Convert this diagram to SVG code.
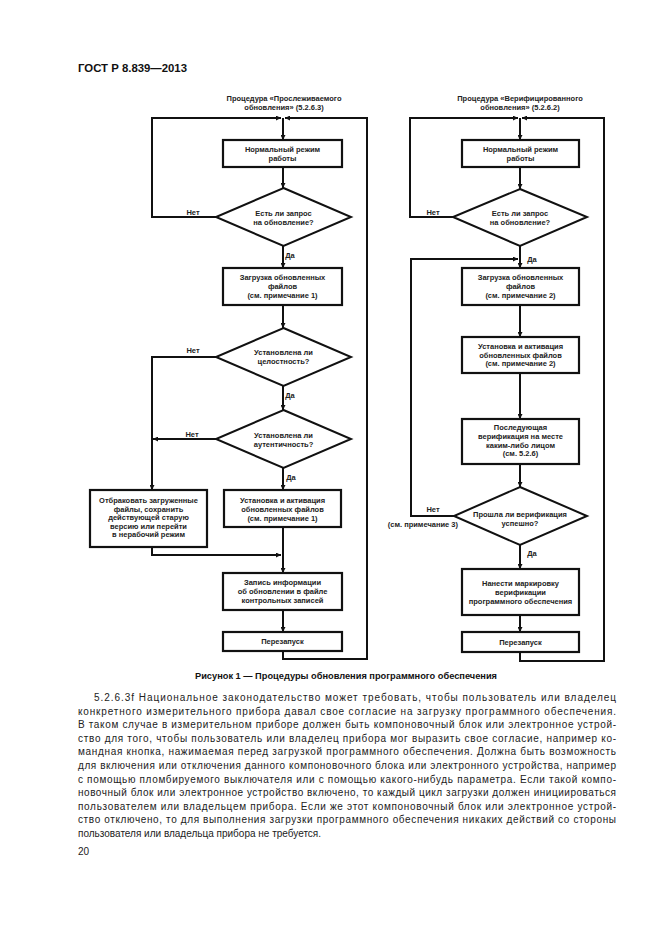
<svg xmlns="http://www.w3.org/2000/svg" width="661" height="935" viewBox="0 0 661 935">
<defs>
<marker id="ah" viewBox="0 0 8 8" refX="8" refY="4" markerWidth="5" markerHeight="5" markerUnits="userSpaceOnUse" orient="auto">
<path d="M0,0 L8,4 L0,8 z" fill="#111"/>
</marker>
<style>
.bx{fill:#fff;stroke:#111;stroke-width:2.2}
.dm{fill:#fff;stroke:#111;stroke-width:2}
.cn{fill:none;stroke:#111;stroke-width:2}
.t{font-family:"Liberation Sans",Arial,sans-serif;font-size:7.5px;font-weight:bold;fill:#222;text-anchor:middle}
.lb{font-family:"Liberation Sans",Arial,sans-serif;font-size:7.5px;font-weight:bold;fill:#222;text-anchor:middle}
.body{font-family:"Liberation Sans",Arial,sans-serif;font-size:10px;fill:#222}
</style>
</defs>
<rect width="661" height="935" fill="#fff"/>
<text x="78" y="72" font-family="Liberation Sans,Arial,sans-serif" font-size="11" font-weight="bold" fill="#111" textLength="109" lengthAdjust="spacingAndGlyphs">ГОСТ Р 8.839—2013</text>

<g id="connectors">
<path class="cn" d="M216,217 H152 V118 H281" marker-end="url(#ah)"/>
<path class="cn" d="M283,651 V659 H367 V118 H285" marker-end="url(#ah)"/>
<path class="cn" d="M283,118 V140" marker-end="url(#ah)"/>
<path class="cn" d="M283,167 V188" marker-end="url(#ah)"/>
<path class="cn" d="M283,246 V268" marker-end="url(#ah)"/>
<path class="cn" d="M283,305 V328" marker-end="url(#ah)"/>
<path class="cn" d="M216,357 H152 V490" marker-end="url(#ah)"/>
<path class="cn" d="M216,439 H153" marker-end="url(#ah)"/>
<path class="cn" d="M283,386 V410" marker-end="url(#ah)"/>
<path class="cn" d="M283,468 V490" marker-end="url(#ah)"/>
<path class="cn" d="M152,547 V555 H281" marker-end="url(#ah)"/>
<path class="cn" d="M283,527 V573" marker-end="url(#ah)"/>
<path class="cn" d="M283,610 V632" marker-end="url(#ah)"/>

<path class="cn" d="M453,217 H410 V118 H518" marker-end="url(#ah)"/>
<path class="cn" d="M520,652 V661 H604 V118 H522" marker-end="url(#ah)"/>
<path class="cn" d="M520,118 V140" marker-end="url(#ah)"/>
<path class="cn" d="M520,167 V189" marker-end="url(#ah)"/>
<path class="cn" d="M520,246 V268" marker-end="url(#ah)"/>
<path class="cn" d="M454,516 H411 V259 H518" marker-end="url(#ah)"/>
<path class="cn" d="M520,305 V337" marker-end="url(#ah)"/>
<path class="cn" d="M520,373 V419" marker-end="url(#ah)"/>
<path class="cn" d="M520,464 V487" marker-end="url(#ah)"/>
<path class="cn" d="M520,545 V569" marker-end="url(#ah)"/>
<path class="cn" d="M520,615 V632" marker-end="url(#ah)"/>

<text class="lb" x="193" y="215">Нет</text>
<text class="lb" x="193" y="353">Нет</text>
<text class="lb" x="192" y="437">Нет</text>
<text class="lb" x="290" y="258">Да</text>
<text class="lb" x="290" y="398">Да</text>
<text class="lb" x="291" y="480">Да</text>
<text class="lb" x="433" y="215">Нет</text>
<text class="lb" x="532" y="262">Да</text>
<text class="lb" x="433" y="512">Нет</text>
<text class="lb" x="458" y="527" style="text-anchor:end">(см. примечание 3)</text>
<text class="lb" x="532" y="556">Да</text>
</g>

<g id="title-left"><text class="t" x="284" y="101">Процедура «Прослеживаемого</text><text class="t" x="284" y="109.5">обновления» (5.2.6.3)</text></g>
<g id="title-right"><text class="t" x="520" y="101">Процедура «Верифицированного</text><text class="t" x="520" y="109.5">обновления» (5.2.6.2)</text></g>

<g id="L1"><rect class="bx" x="223" y="140" width="119" height="27"/><text class="t" x="282.5" y="152">Нормальный режим</text><text class="t" x="282.5" y="161">работы</text></g>
<g id="L2"><polygon class="dm" points="283.5,188 351,217 283.5,246 216,217"/><text class="t" x="283.5" y="216">Есть ли запрос</text><text class="t" x="283.5" y="224.5">на обновление?</text></g>
<g id="L3"><rect class="bx" x="223" y="268" width="119" height="37"/><text class="t" x="282.5" y="280">Загрузка обновленных</text><text class="t" x="282.5" y="289">файлов</text><text class="t" x="282.5" y="298">(см. примечание 1)</text></g>
<g id="L4"><polygon class="dm" points="283.5,328 351,357 283.5,386 216,357"/><text class="t" x="283.5" y="355">Установлена ли</text><text class="t" x="283.5" y="364">целостность?</text></g>
<g id="L5"><polygon class="dm" points="283.5,410 351,439 283.5,468 216,439"/><text class="t" x="283.5" y="438">Установлена ли</text><text class="t" x="283.5" y="447">аутентичность?</text></g>
<g id="L6"><rect class="bx" x="90" y="490" width="117" height="57"/><text class="t" x="148.5" y="503">Отбраковать загруженные</text><text class="t" x="148.5" y="511.5">файлы, сохранить</text><text class="t" x="148.5" y="520">действующей старую</text><text class="t" x="148.5" y="528.5">версию или перейти</text><text class="t" x="148.5" y="537">в нерабочий режим</text></g>
<g id="L7"><rect class="bx" x="224" y="490" width="117" height="37"/><text class="t" x="282.5" y="503">Установка и активация</text><text class="t" x="282.5" y="512">обновленных файлов</text><text class="t" x="282.5" y="521">(см. примечание 1)</text></g>
<g id="L8"><rect class="bx" x="223" y="573" width="119" height="37"/><text class="t" x="282.5" y="585">Запись информации</text><text class="t" x="282.5" y="594">об обновлении в файле</text><text class="t" x="282.5" y="603">контрольных записей</text></g>
<g id="L9"><rect class="bx" x="223" y="632" width="119" height="19"/><text class="t" x="282.5" y="644">Перезапуск</text></g>

<g id="R1"><rect class="bx" x="462" y="140" width="117" height="27"/><text class="t" x="520.5" y="152">Нормальный режим</text><text class="t" x="520.5" y="161">работы</text></g>
<g id="R2"><polygon class="dm" points="520,189 587,217 520,246 453,217"/><text class="t" x="520" y="216">Есть ли запрос</text><text class="t" x="520" y="224.5">на обновление?</text></g>
<g id="R3"><rect class="bx" x="462" y="268" width="117" height="37"/><text class="t" x="520.5" y="280">Загрузка обновленных</text><text class="t" x="520.5" y="289">файлов</text><text class="t" x="520.5" y="298">(см. примечание 2)</text></g>
<g id="R4"><rect class="bx" x="462" y="337" width="117" height="36"/><text class="t" x="520.5" y="349">Установка и активация</text><text class="t" x="520.5" y="357.5">обновленных файлов</text><text class="t" x="520.5" y="366">(см. примечание 2)</text></g>
<g id="R5"><rect class="bx" x="462" y="419" width="117" height="45"/><text class="t" x="520.5" y="430">Последующая</text><text class="t" x="520.5" y="439">верификация на месте</text><text class="t" x="520.5" y="447.5">каким-либо лицом</text><text class="t" x="520.5" y="456">(см. 5.2.6)</text></g>
<g id="R6"><polygon class="dm" points="520,487 587,516 520,545 454,516"/><text class="t" x="520" y="517">Прошла ли верификация</text><text class="t" x="520" y="525.5">успешно?</text></g>
<g id="R7"><rect class="bx" x="462" y="569" width="117" height="46"/><text class="t" x="520.5" y="586">Нанести маркировку</text><text class="t" x="520.5" y="595">верификации</text><text class="t" x="520.5" y="604">программного обеспечения</text></g>
<g id="R8"><rect class="bx" x="462" y="632" width="117" height="20"/><text class="t" x="520.5" y="645">Перезапуск</text></g>

<text x="195" y="679" font-family="Liberation Sans,Arial,sans-serif" font-size="9" font-weight="bold" fill="#111" textLength="302" lengthAdjust="spacingAndGlyphs">Рисунок 1 — Процедуры обновления программного обеспечения</text>

<g class="body">
<text x="94" y="701" textLength="522" lengthAdjust="spacing">5.2.6.3f Национальное законодательство может требовать, чтобы пользователь или владелец</text>
<text x="78" y="714.6" textLength="538" lengthAdjust="spacing">конкретного измерительного прибора давал свое согласие на загрузку программного обеспечения.</text>
<text x="78" y="728.2" textLength="538" lengthAdjust="spacing">В таком случае в измерительном приборе должен быть компоновочный блок или электронное устрой-</text>
<text x="78" y="741.8" textLength="538" lengthAdjust="spacing">ство для того, чтобы пользователь или владелец прибора мог выразить свое согласие, например ко-</text>
<text x="78" y="755.4" textLength="538" lengthAdjust="spacing">мандная кнопка, нажимаемая перед загрузкой программного обеспечения. Должна быть возможность</text>
<text x="78" y="769" textLength="538" lengthAdjust="spacing">для включения или отключения данного компоновочного блока или электронного устройства, например</text>
<text x="78" y="782.6" textLength="538" lengthAdjust="spacing">с помощью пломбируемого выключателя или с помощью какого-нибудь параметра. Если такой компо-</text>
<text x="78" y="796.2" textLength="538" lengthAdjust="spacing">новочный блок или электронное устройство включено, то каждый цикл загрузки должен инициироваться</text>
<text x="78" y="809.8" textLength="538" lengthAdjust="spacing">пользователем или владельцем прибора. Если же этот компоновочный блок или электронное устрой-</text>
<text x="78" y="823.4" textLength="538" lengthAdjust="spacing">ство отключено, то для выполнения загрузки программного обеспечения никаких действий со стороны</text>
<text x="78" y="837">пользователя или владельца прибора не требуется.</text>
<text x="78" y="855">20</text>
</g>
</svg>
